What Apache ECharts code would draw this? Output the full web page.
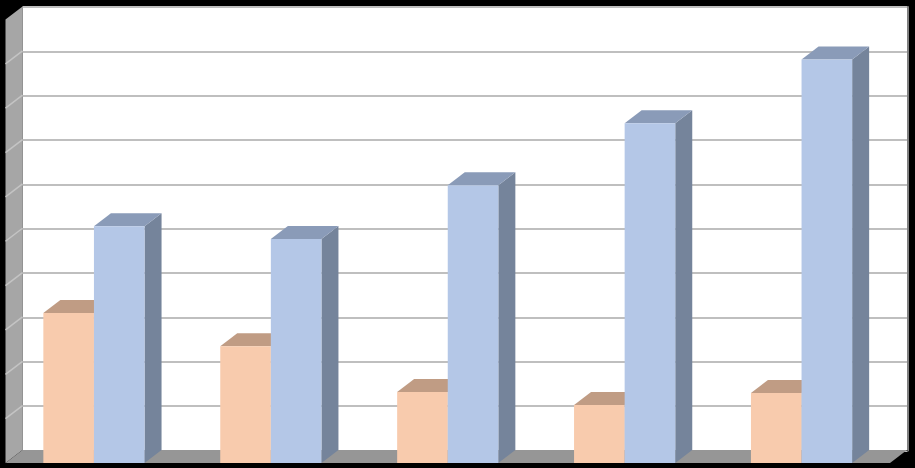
<!DOCTYPE html>
<html><head><meta charset="utf-8">
<style>html,body{margin:0;padding:0;background:#000}#c{width:915px;height:468px}</style>
<script src="https://cdn.jsdelivr.net/npm/echarts@6/dist/echarts.min.js"></script>
</head><body><div id="c"></div>
<script>
const categories = ['1','2','3','4','5'];
const peachValues = [3.38, 2.63, 1.6, 1.31, 1.58];
const blueValues = [5.34, 5.05, 6.26, 7.66, 9.1];
const tickValues = [1,2,3,4,5,6,7,8,9];
const DX = 17, DY = 13, BAR = 50.6;
const poly = (pts, fill, extra) => Object.assign({type:'polygon', shape:{points:pts}, style:{fill}, silent:true}, extra||{});

function barItem(side, values, cFront, cTop, cSide){
  return function(params, api){
    const i = api.value(0);
    const base = api.coord([i, 0]), top = api.coord([i, values[i]]);
    const x0 = side < 0 ? base[0]-BAR : base[0], x1 = x0+BAR;
    return {type:'group', children:[
      poly([[x1,top[1]],[x1+DX,top[1]-DY],[x1+DX,base[1]-DY],[x1,base[1]]], cSide),
      poly([[x0,top[1]],[x0+DX,top[1]-DY],[x1+DX,top[1]-DY],[x1,top[1]]], cTop),
      {type:'rect', shape:{x:x0,y:top[1],width:BAR,height:base[1]-top[1]}, style:{fill:cFront}, silent:true}
    ]};
  };
}
const chart = echarts.init(document.getElementById('c'), null, {renderer:'canvas'});
chart.setOption({
  backgroundColor:'#000000',
  animation:false,
  grid:[
    {left:5.5, top:19.5, width:884.5, height:443.5},
    {left:22.5, top:7, width:885, height:443.5, show:true, backgroundColor:'#ffffff', borderWidth:0}
  ],
  xAxis:[
    {type:'category', data:categories, gridIndex:0, axisLine:{show:false}, axisTick:{show:false}, axisLabel:{show:false}},
    {type:'category', data:categories, gridIndex:1, axisLine:{show:true, lineStyle:{color:'#404040',width:1}}, axisTick:{show:false}, axisLabel:{show:false}}
  ],
  yAxis:[
    {type:'value', min:0, max:10, interval:1, gridIndex:0, axisLine:{show:false}, axisTick:{show:false}, axisLabel:{show:false}, splitLine:{show:false}},
    {type:'value', min:0, max:10, interval:1, gridIndex:1, position:'right', axisLine:{show:true, lineStyle:{color:'#808080',width:2}}, axisTick:{show:false}, axisLabel:{show:false},
      splitLine:{show:true, lineStyle:{color:'#BFBFBF',width:2}}}
  ],
  series:[
    {type:'custom', xAxisIndex:0, yAxisIndex:0, z:3, data:[[0]], clip:false,
      renderItem(params, api){
        const c = params.coordSys, bx = c.x, by = c.y+c.height, ty = c.y, rx = c.x+c.width;
        return {type:'group', children:[
          poly([[bx,ty],[bx+DX,ty-DY],[bx+DX,by-DY],[bx,by]], '#A6A6A6'),
          poly([[bx,by],[bx+DX,by-DY],[rx+DX,by-DY],[rx,by]], '#969696')
        ]};
      }},
    {type:'custom', xAxisIndex:0, yAxisIndex:0, z:4, data:tickValues.map(v=>[v]), clip:false,
      renderItem(params, api){
        const p = api.coord([0, api.value(0)]), x = params.coordSys.x;
        return {type:'line', shape:{x1:x,y1:p[1],x2:x+DX,y2:p[1]-DY}, style:{stroke:'#C4C4C4',lineWidth:1.5}, silent:true};
      }},
    {type:'custom', xAxisIndex:0, yAxisIndex:0, z:5, clip:false, data:categories.map((c,i)=>[i]),
      renderItem:barItem(-1, peachValues, '#F8CBAD', '#C09C84', '#B8977F')},
    {type:'custom', xAxisIndex:0, yAxisIndex:0, z:6, clip:false, data:categories.map((c,i)=>[i]),
      renderItem:barItem(1, blueValues, '#B4C7E7', '#8A9BB8', '#75849B')}
  ]
});
</script></body></html>
